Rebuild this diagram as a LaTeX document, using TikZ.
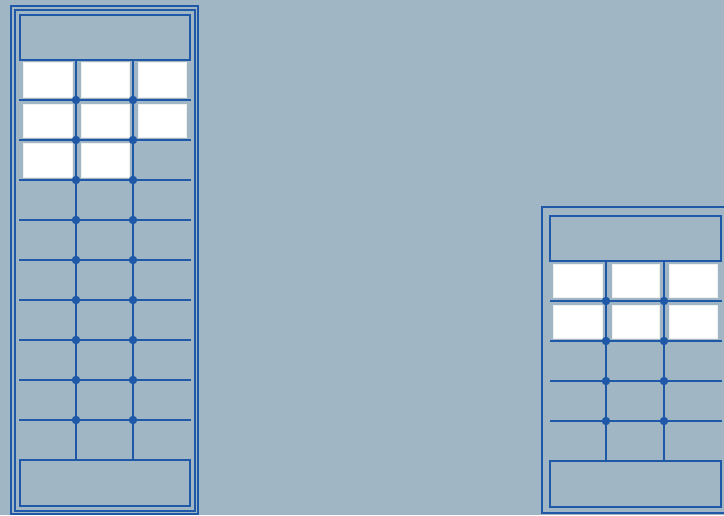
\documentclass[tikz,border=0pt]{standalone}
\begin{document}
\begin{tikzpicture}[x=1pt,y=-1pt,
  bline/.style={draw=lineblue,line width=2.3pt},
  frame/.style={draw=lineblue,line width=2pt},
  boxnode/.style={draw=lineblue,line width=2.3pt,inner sep=0pt,outer sep=0pt},
  cell/.style={fill=white,draw=white!88!gray,line width=0.8pt},
  jdot/.style={circle,fill=lineblue,inner sep=0pt,minimum size=8.5pt}]
\definecolor{bgcol}{RGB}{160,182,196}
\definecolor{lineblue}{RGB}{30,88,166}
\useasboundingbox (0,0) rectangle (724,515);
\fill[bgcol] (0,0) rectangle (724,515);

% ---------- left cabinet ----------
\draw[frame] (11,6) rectangle (198,514);
\draw[frame] (14.5,9.5) rectangle (194.5,510.5);
\draw[boxnode] (20,15) rectangle (190,60);
\draw[boxnode] (20,460) rectangle (190,506);
% white cells
\foreach \r/\ya/\yb in {1/62/97,2/104/137,3/143/177}{
  \foreach \c/\xa/\xb in {1/23/72,2/81/129,3/138/186}{
    \ifnum\r=3 \ifnum\c=3 \else
      \draw[cell] (\xa,\ya) rectangle (\xb,\yb);
    \fi\else
      \draw[cell] (\xa,\ya) rectangle (\xb,\yb);
    \fi
  }
}
% verticals
\foreach \x [count=\i] in {76,133}{
  \coordinate (Lvt\i) at (\x,60);
  \coordinate (Lvb\i) at (\x,460);
  \draw[bline] (Lvt\i) -- (Lvb\i);
}
% horizontals with joints
\foreach \y [count=\j] in {100,140,180,220,260,300,340,380,420}{
  \coordinate (Lhl\j) at (19,\y);
  \coordinate (Lhr\j) at (191,\y);
  \draw[bline] (Lhl\j) -- (Lhr\j);
  \node[jdot] (Ld\j a) at (76,\y) {};
  \node[jdot] (Ld\j b) at (133,\y) {};
}

% ---------- right cabinet ----------
\draw[frame] (542,207) rectangle (730,513);
\draw[boxnode] (550,216) rectangle (721,261);
\draw[boxnode] (550,461) rectangle (721,507);
\foreach \ya/\yb in {264/297,305/338}{
  \foreach \xa/\xb in {553/602,612/659,669/717}{
    \draw[cell] (\xa,\ya) rectangle (\xb,\yb);
  }
}
\foreach \x [count=\i] in {606,664}{
  \coordinate (Rvt\i) at (\x,261);
  \coordinate (Rvb\i) at (\x,461);
  \draw[bline] (Rvt\i) -- (Rvb\i);
}
\foreach \y [count=\j] in {301,341,381,421}{
  \coordinate (Rhl\j) at (550,\y);
  \coordinate (Rhr\j) at (722,\y);
  \draw[bline] (Rhl\j) -- (Rhr\j);
  \node[jdot] (Rd\j a) at (606,\y) {};
  \node[jdot] (Rd\j b) at (664,\y) {};
}
\end{tikzpicture}
\end{document}
